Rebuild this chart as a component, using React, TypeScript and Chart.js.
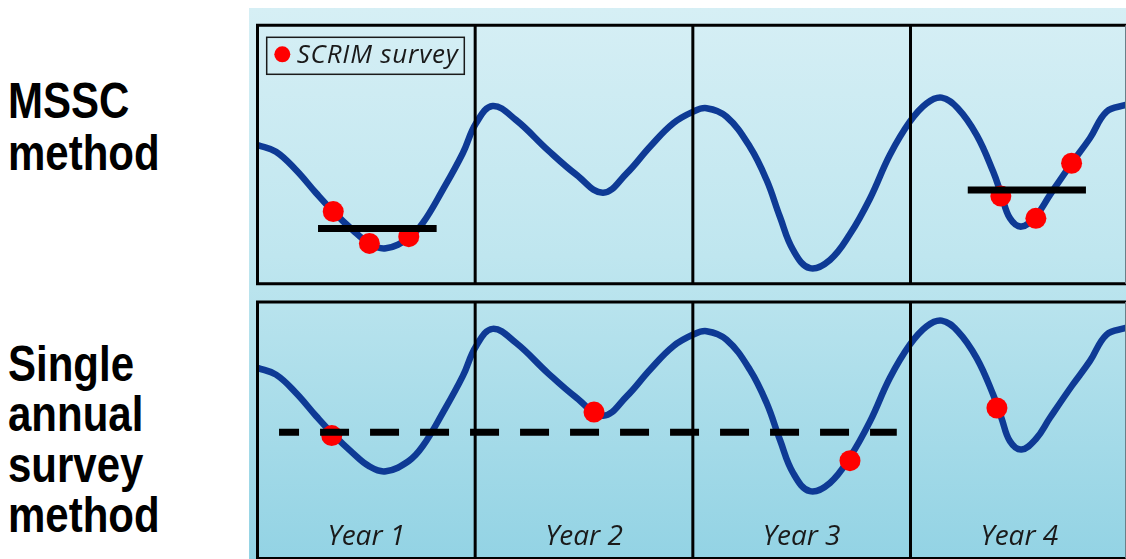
import React, { useEffect, useRef } from "react";
import { Chart, registerables } from "chart.js";

Chart.register(...registerables);

// ---- Data ----
// Abundance curve (x in years, y in relative level)
const curveYears = [
  0, 0.085, 0.177, 0.269, 0.348, 0.437, 0.512, 0.59, 0.695, 0.759, 0.851, 0.943,
  1.004, 1.08, 1.187, 1.334, 1.466, 1.588, 1.696, 1.803, 1.91, 2.002, 2.063,
  2.155, 2.262, 2.339, 2.4, 2.461, 2.538, 2.63, 2.722, 2.814, 2.905, 2.997,
  3.074, 3.143, 3.217, 3.304, 3.38, 3.418, 3.457, 3.51, 3.576, 3.64, 3.74,
  3.824, 3.901, 3.99,
];
const curveLevels = [
  53.7, 51.1, 44.0, 35.1, 27.9, 20.8, 15.7, 13.7, 17.7, 23.4, 36.3, 50.5,
  62.1, 68.8, 63.4, 51.7, 42.1, 35.2, 42.7, 53.0, 62.1, 66.6, 67.9,
  64.6, 53.0, 40.1, 25.9, 13.0, 6.0, 9.2, 19.2, 33.0, 49.8, 62.7,
  69.8, 72.0, 67.9, 57.5, 43.3, 34.3, 25.3, 22.1, 26.2, 34.3, 46.6,
  56.3, 66.6, 69.2,
];

// MSSC method: survey points and survey means
const msscSurveyYears = [0.348, 0.514, 0.695, 3.415, 3.576, 3.74];
const msscSurveyLevels = [27.9, 15.6, 18.2, 33.9, 25.3, 46.6];
const msscMeanStart = [0.278, 3.263];
const msscMeanEnd = [0.823, 3.806];
const msscMeanLevels = [21.4, 36.3];

// Single annual survey method
const singleSurveyYears = [0.341, 1.546, 2.722, 3.397];
const singleSurveyLevels = [27.5, 36.6, 17.8, 38.2];
const singleMeanYears = [0.099, 2.937];
const singleMeanLevel = 28.8;

const yearBoundaries = [1, 2, 3];
const yearLabels = ["Year 1", "Year 2", "Year 3", "Year 4"];
const legendLabel = "SCRIM survey";
const rowLabels = [
  ["MSSC", "method"],
  ["Single", "annual", "survey", "method"],
];

const CURVE_COLOR = "#0e3a95";
const POINT_COLOR = "#ff0000";

function curveData() {
  return curveYears.map((x, i) => ({ x, y: curveLevels[i] }));
}

function makeFramePlugin(kind: "top" | "bottom") {
  return {
    id: "frame-" + kind,
    afterDatasetsDraw(chart: any) {
      const { ctx, chartArea: a, scales } = chart;
      const xs = scales.x;
      ctx.save();
      ctx.strokeStyle = "#000";
      ctx.lineWidth = 3;
      ctx.setLineDash([]);
      yearBoundaries.forEach((v) => {
        const px = xs.getPixelForValue(v);
        ctx.beginPath();
        ctx.moveTo(px, a.top);
        ctx.lineTo(px, a.bottom);
        ctx.stroke();
      });
      ctx.beginPath();
      ctx.moveTo(a.right, a.top);
      ctx.lineTo(a.left, a.top);
      ctx.lineTo(a.left, a.bottom);
      ctx.lineTo(a.right, a.bottom);
      ctx.stroke();
      ctx.strokeStyle = "#6b7f88";
      ctx.lineWidth = 1;
      ctx.beginPath();
      ctx.moveTo(a.right - 0.5, a.top);
      ctx.lineTo(a.right - 0.5, a.bottom);
      ctx.stroke();

      if (kind === "top") {
        // legend box
        ctx.strokeStyle = "#1a1a1a";
        ctx.lineWidth = 1.5;
        ctx.strokeRect(a.left + 9.2, a.top + 12, 197.6, 37);
        ctx.fillStyle = POINT_COLOR;
        ctx.beginPath();
        ctx.arc(a.left + 24.8, a.top + 29, 8, 0, Math.PI * 2);
        ctx.fill();
        ctx.fillStyle = "#1a1a1a";
        ctx.font = "italic 26px 'Open Sans', sans-serif";
        try {
          (ctx as any).letterSpacing = "0.8px";
        } catch (e) {}
        ctx.textBaseline = "alphabetic";
        ctx.textAlign = "left";
        ctx.fillText(legendLabel, a.left + 39.2, a.top + 38);
        try {
          (ctx as any).letterSpacing = "0px";
        } catch (e) {}
      } else {
        ctx.fillStyle = "#1a1a1a";
        ctx.font = "italic 28px 'Open Sans', sans-serif";
        ctx.textBaseline = "alphabetic";
        ctx.textAlign = "center";
        yearLabels.forEach((lab, i) => {
          const px = xs.getPixelForValue(i + 0.5);
          ctx.fillText(lab, px, a.bottom - 13.5);
        });
      }
      ctx.restore();
    },
  };
}

function curveDataset() {
  return {
    type: "line",
    data: curveData(),
    borderColor: CURVE_COLOR,
    borderWidth: 6.5,
    pointRadius: 0,
    tension: 0.4,
    borderJoinStyle: "round",
    borderCapStyle: "round",
    order: 2,
  };
}

function TopPanel() {
  const ref = useRef<HTMLCanvasElement>(null);
  useEffect(() => {
    const datasets: any[] = [];
    msscMeanStart.forEach((s, i) => {
      datasets.push({
        type: "line",
        data: [
          { x: s, y: msscMeanLevels[i] },
          { x: msscMeanEnd[i], y: msscMeanLevels[i] },
        ],
        borderColor: "#000",
        borderWidth: 7,
        pointRadius: 0,
        order: 0,
      });
    });
    datasets.push({
      type: "scatter",
      data: msscSurveyYears.map((x, i) => ({ x, y: msscSurveyLevels[i] })),
      backgroundColor: POINT_COLOR,
      borderWidth: 0,
      pointRadius: 10.5,
      order: 1,
    });
    datasets.push(curveDataset());
    const chart = new Chart(ref.current!, {
      type: "line",
      data: { datasets },
      options: {
        animation: false,
        responsive: false,
        devicePixelRatio: 1,
        layout: { autoPadding: false, padding: { left: 8.5, top: 17.3, right: 0, bottom: 8.3 } },
        scales: {
          x: { type: "linear", min: 0, max: 3.99, display: false },
          y: { type: "linear", min: 0, max: 100, display: false },
        },
        plugins: { legend: { display: false }, tooltip: { enabled: false } },
      },
      plugins: [makeFramePlugin("top")],
    } as any);
    return () => chart.destroy();
  }, []);
  return (
    <canvas
      ref={ref}
      width={877}
      height={284}
      style={{ position: "absolute", left: 249, top: 8, width: 877, height: 284 }}
    />
  );
}

function BottomPanel() {
  const ref = useRef<HTMLCanvasElement>(null);
  useEffect(() => {
    const datasets: any[] = [
      {
        type: "line",
        data: singleMeanYears.map((x) => ({ x, y: singleMeanLevel })),
        borderColor: "#000",
        borderWidth: 7,
        borderDash: [29, 21],
        borderDashOffset: 9,
        pointRadius: 0,
        order: 0,
      },
      {
        type: "scatter",
        data: singleSurveyYears.map((x, i) => ({ x, y: singleSurveyLevels[i] })),
        backgroundColor: POINT_COLOR,
        borderWidth: 0,
        pointRadius: 10.5,
        order: 1,
      },
      curveDataset(),
    ];
    const chart = new Chart(ref.current!, {
      type: "line",
      data: { datasets },
      options: {
        animation: false,
        responsive: false,
        devicePixelRatio: 1,
        layout: { autoPadding: false, padding: { left: 8.5, top: 10, right: 0, bottom: 0.5 } },
        scales: {
          x: { type: "linear", min: 0, max: 3.99, display: false },
          y: { type: "linear", min: -20.05, max: 79.2, display: false },
        },
        plugins: { legend: { display: false }, tooltip: { enabled: false } },
      },
      plugins: [makeFramePlugin("bottom")],
    } as any);
    return () => chart.destroy();
  }, []);
  return (
    <canvas
      ref={ref}
      width={877}
      height={267}
      style={{ position: "absolute", left: 249, top: 292, width: 877, height: 267 }}
    />
  );
}

export default function App() {
  const labelStyle: React.CSSProperties = {
    position: "absolute",
    left: 8,
    fontFamily: '"Liberation Sans", Arial, sans-serif',
    fontWeight: "bold",
    fontSize: 42,
    color: "#000",
    transform: "scaleY(1.2)",
    transformOrigin: "top left",
    whiteSpace: "nowrap",
  };
  return (
    <div
      style={{
        position: "absolute",
        left: 0,
        top: 0,
        width: 1126,
        height: 559,
        background: "#fff",
        overflow: "hidden",
      }}
    >
      <div style={{ ...labelStyle, top: 74.6, lineHeight: "43.3px" }}>
        {rowLabels[0].map((t, i) => (
          <div key={i}>{t}</div>
        ))}
      </div>
      <div style={{ ...labelStyle, top: 339.3, lineHeight: "42.1px" }}>
        {rowLabels[1].map((t, i) => (
          <div key={i}>{t}</div>
        ))}
      </div>
      <div
        style={{
          position: "absolute",
          left: 249,
          top: 8,
          width: 877,
          height: 551,
          background: "linear-gradient(to bottom, #d6eff5 0%, #bfe6ef 45%, #93d3e4 100%)",
        }}
      />
      <TopPanel />
      <BottomPanel />
    </div>
  );
}
